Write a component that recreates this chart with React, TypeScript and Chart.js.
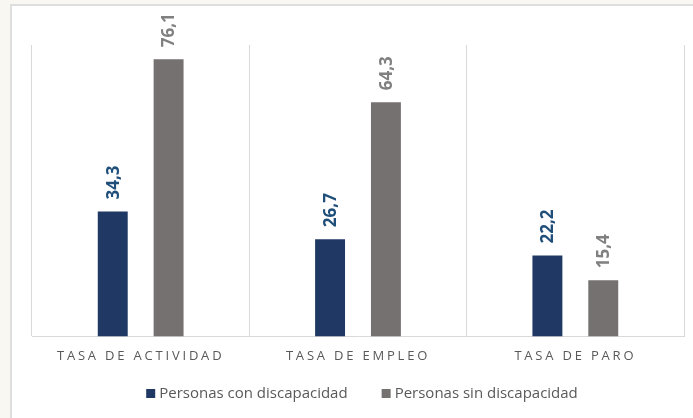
import React, { useEffect, useRef } from 'react';
import { Chart, registerables } from 'chart.js';

Chart.register(...registerables);

const categories = ['TASA DE ACTIVIDAD', 'TASA DE EMPLEO', 'TASA DE PARO'];
const seriesNames = ['Personas con discapacidad', 'Personas sin discapacidad'];
const conDiscapacidad = [34.3, 26.7, 22.2];
const sinDiscapacidad = [76.1, 64.3, 15.4];
const yMax = 80;

const barColors = ['#203864', '#767171'];
const labelColors = ['#1f4e79', '#808080'];

const fmt = (v: number) => v.toFixed(1).replace('.', ',');

const customPlugin = {
  id: 'customDraw',
  beforeDraw(chart: any) {
    (chart.ctx as any).letterSpacing = '2.8px';
  },
  beforeDatasetsDraw(chart: any) {
    (chart.ctx as any).letterSpacing = '0px';
  },
  afterDatasetsDraw(chart: any) {
    const ctx = chart.ctx;
    (ctx as any).letterSpacing = '0px';
    chart.data.datasets.forEach((ds: any, i: number) => {
      const meta = chart.getDatasetMeta(i);
      meta.data.forEach((bar: any, j: number) => {
        const { x, y } = bar.getProps(['x', 'y'], true);
        ctx.save();
        ctx.translate(x + 1, y - 12);
        ctx.rotate(-Math.PI / 2);
        ctx.textAlign = 'left';
        ctx.textBaseline = 'middle';
        ctx.fillStyle = labelColors[i];
        ctx.font = 'bold 17px "Open Sans"';
        ctx.fillText(fmt(ds.data[j]), 0, 0);
        ctx.restore();
      });
    });
  },
  afterDraw(chart: any) {
    const ctx = chart.ctx;
    (ctx as any).letterSpacing = '0px';
    ctx.save();
    ctx.font = '15px "Open Sans"';
    const box = 9;
    const boxGap = 4;
    const itemGap = 34;
    const widths = seriesNames.map((n) => ctx.measureText(n).width);
    const total = widths.reduce((a, w) => a + box + boxGap + w, 0) + itemGap * (seriesNames.length - 1);
    let x = 362 - total / 2;
    const cy = 393.5;
    seriesNames.forEach((n, i) => {
      ctx.fillStyle = barColors[i];
      ctx.fillRect(x, cy - box / 2, box, box);
      ctx.fillStyle = '#595959';
      ctx.textAlign = 'left';
      ctx.textBaseline = 'middle';
      ctx.fillText(n, x + box + boxGap, cy);
      x += box + boxGap + widths[i] + itemGap;
    });
    ctx.restore();
  },
};

export default function App() {
  const ref = useRef<HTMLCanvasElement>(null);
  useEffect(() => {
    if (!ref.current) return;
    const chart = new Chart(ref.current, {
      type: 'bar',
      data: {
        labels: categories,
        datasets: [
          {
            label: seriesNames[0],
            data: conDiscapacidad,
            backgroundColor: barColors[0],
            categoryPercentage: 0.514,
            barPercentage: 0.536,
          },
          {
            label: seriesNames[1],
            data: sinDiscapacidad,
            backgroundColor: barColors[1],
            categoryPercentage: 0.514,
            barPercentage: 0.536,
          },
        ],
      },
      options: {
        animation: false,
        responsive: false,
        maintainAspectRatio: false,
        devicePixelRatio: 1,
        layout: { padding: { left: 32, right: 9, top: 45, bottom: 42 } },
        plugins: {
          legend: { display: false },
          tooltip: { enabled: false },
        },
        scales: {
          x: {
            grid: {
              display: true,
              offset: true,
              color: '#d9d9d9',
              lineWidth: 1,
              drawTicks: false,
            },
            border: { display: true, color: '#d9d9d9', width: 1 },
            ticks: {
              color: '#595959',
              font: { family: '"Open Sans"', size: 13 },
              padding: 12,
              maxRotation: 0,
              autoSkip: false,
            },
          },
          y: {
            display: false,
            min: 0,
            max: yMax,
          },
        },
      },
      plugins: [customPlugin],
    });
    return () => chart.destroy();
  }, []);

  return (
    <div style={{ position: 'fixed', left: 0, top: 0, width: 693, height: 418, background: '#f8f7f2', overflow: 'hidden' }}>
      <div
        style={{
          position: 'absolute',
          left: 10,
          top: 4,
          width: 700,
          height: 430,
          background: '#ffffff',
          borderLeft: '2px solid #dedede',
          borderTop: '2px solid #dedede',
        }}
      />
      <canvas ref={ref} width={693} height={418} style={{ position: 'absolute', left: 0, top: 0, width: 693, height: 418 }} />
    </div>
  );
}
